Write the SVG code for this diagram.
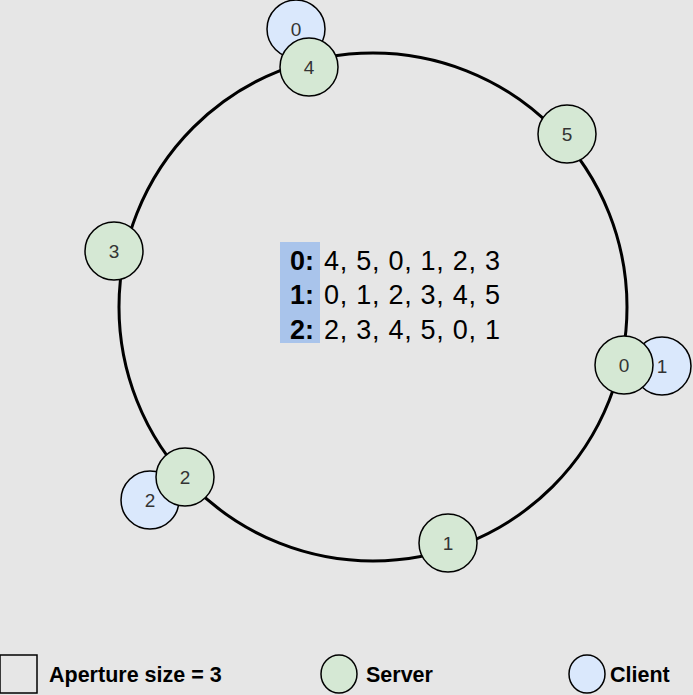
<svg xmlns="http://www.w3.org/2000/svg" width="693" height="695" viewBox="0 0 693 695">
<style>
.bg{fill:#e6e6e6}
.ring{fill:none;stroke:#000;stroke-width:3}
.srv{fill:#d5e8d4;stroke:#000;stroke-width:1.5}
.cli{fill:#dae8fc;stroke:#000;stroke-width:1.5}
.lbl{font-family:"Liberation Sans",Arial,sans-serif;font-size:19px;fill:#333;text-anchor:middle}
.tbl{font-family:"Liberation Sans",Arial,sans-serif;font-size:27px;fill:#000}
.b{font-weight:bold}
.leg{font-family:"Liberation Sans",Arial,sans-serif;font-size:21.5px;font-weight:bold;fill:#000}
</style>
<rect class="bg" x="0" y="0" width="693" height="695"/>
<g id="connectors">
<circle class="ring" cx="373" cy="307" r="254"/>
</g>
<g id="client-0"><circle class="cli" cx="296" cy="29" r="29"/><text class="lbl" x="296" y="35.5">0</text></g>
<g id="server-4"><circle class="srv" cx="309" cy="67" r="29"/><text class="lbl" x="309" y="73.5">4</text></g>
<g id="server-5"><circle class="srv" cx="567" cy="134" r="29"/><text class="lbl" x="567" y="140.5">5</text></g>
<g id="server-3"><circle class="srv" cx="114" cy="251" r="29"/><text class="lbl" x="114" y="257.5">3</text></g>
<g id="client-1"><circle class="cli" cx="662" cy="366" r="29"/><text class="lbl" x="662" y="372.5">1</text></g>
<g id="server-0"><circle class="srv" cx="624" cy="365" r="29"/><text class="lbl" x="624" y="371.5">0</text></g>
<g id="client-2"><circle class="cli" cx="150" cy="500" r="29"/><text class="lbl" x="150" y="506.5">2</text></g>
<g id="server-2"><circle class="srv" cx="185" cy="477" r="29"/><text class="lbl" x="185" y="483.5">2</text></g>
<g id="server-1"><circle class="srv" cx="448" cy="543" r="29"/><text class="lbl" x="448" y="549.5">1</text></g>
<g id="table">
<rect x="280" y="242" width="40" height="101" fill="#a9c4eb"/>
<text class="tbl b" x="290" y="269.5">0:</text>
<text class="tbl" x="324" y="269.5" textLength="176" lengthAdjust="spacing">4, 5, 0, 1, 2, 3</text>
<text class="tbl b" x="290" y="304">1:</text>
<text class="tbl" x="324" y="304" textLength="176" lengthAdjust="spacing">0, 1, 2, 3, 4, 5</text>
<text class="tbl b" x="290" y="338.5">2:</text>
<text class="tbl" x="324" y="338.5" textLength="176" lengthAdjust="spacing">2, 3, 4, 5, 0, 1</text>
</g>
<g id="legend-aperture"><rect x="0" y="655" width="37" height="38" fill="none" stroke="#000" stroke-width="1.5"/><text class="leg" x="49" y="682">Aperture size = 3</text></g>
<g id="legend-server"><ellipse class="srv" cx="339" cy="674" rx="18" ry="19"/><text class="leg" x="366" y="682">Server</text></g>
<g id="legend-client"><ellipse class="cli" cx="587" cy="674" rx="18" ry="19"/><text class="leg" x="610" y="682">Client</text></g>
</svg>
